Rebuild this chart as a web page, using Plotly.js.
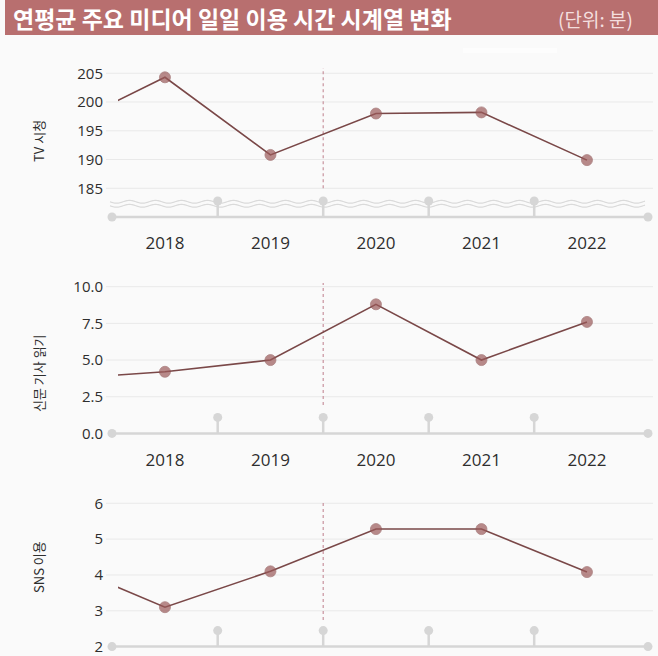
<!DOCTYPE html>
<html>
<head>
<meta charset="utf-8">
<script src="https://cdn.plot.ly/plotly-3.0.1.min.js"></script>
<style>
  html, body { margin: 0; padding: 0; background: #fafafa; }
  #chart { width: 658px; height: 656px; }
</style>
</head>
<body>
<div id="chart"></div>
<script>
// ---- data ----
const years = [2017, 2018, 2019, 2020, 2021, 2022];
const tvValues = [195.3, 204.3, 190.8, 198.0, 198.2, 189.9];
const newsValues = [3.7, 4.2, 5.0, 8.8, 5.0, 7.6];
const snsValues = [4.35, 3.1, 4.1, 5.28, 5.28, 4.08];
const yearLabels = ['2018', '2019', '2020', '2021', '2022'];
const panelTitles = ['TV 시청', '신문 기사 읽기', 'SNS 이용'];
const tvTicks = [185, 190, 195, 200, 205];
const newsTicks = [0, 2.5, 5, 7.5, 10];
const newsTickText = ['0.0', '2.5', '5.0', '7.5', '10.0'];
const snsTicks = [2, 3, 4, 5, 6];
const halfYears = [2018.5, 2019.5, 2020.5, 2021.5];
const chartTitle = '연평균 주요 미디어 일일 이용 시간 시계열 변화';
const unitLabel = '(단위: 분)';

// ---- layout helpers ----
const W = 658, H = 656;
const px = x => x / W;
const py = y => 1 - y / H;

const LINE = '#7a4848';
const DOT = '#9b5a5a';
const GRID = '#e9e9e9';
const BASE = '#d6d6d6';
const DASH = '#c8939e';
const TXT = '#2e2e2e';

const markerSizes = years.map(y => (y < 2018 ? 0 : 11));

function lineTrace(vals, xa, ya) {
  return {
    x: years, y: vals, xaxis: xa, yaxis: ya,
    type: 'scatter', mode: 'lines+markers',
    line: { color: LINE, width: 1.6 },
    marker: { size: markerSizes, color: DOT, line: { color: '#8a4f4f', width: 0.8 } },
    hoverinfo: 'skip', showlegend: false
  };
}

const data = [
  lineTrace(tvValues, 'x', 'y'),
  lineTrace(newsValues, 'x2', 'y2'),
  lineTrace(snsValues, 'x3', 'y3')
];

const shapes = [];
// title bar
shapes.push({ type: 'rect', xref: 'paper', yref: 'paper', x0: px(5), x1: 1, y0: py(35), y1: 1,
  fillcolor: '#b86f6f', line: { width: 0 }, layer: 'below' });
shapes.push({ type: 'rect', xref: 'paper', yref: 'paper', x0: px(463), x1: px(557), y0: py(53), y1: py(48),
  fillcolor: '#fdfdfd', line: { width: 0 }, layer: 'below' });

function panelDecor(xa, ya, gridVals, base, dashFrom, dashTo) {
  gridVals.forEach(v => shapes.push({ type: 'line', xref: 'paper', x0: px(106), x1: px(653),
    yref: ya, y0: v, y1: v, line: { color: GRID, width: 1 }, layer: 'below' }));
  shapes.push({ type: 'line', xref: 'paper', x0: px(112), x1: px(648), yref: ya, y0: base, y1: base,
    line: { color: BASE, width: 2.5 }, layer: 'below' });
  [112, 648].forEach(x => shapes.push({ type: 'circle', xref: 'paper', xsizemode: 'pixel', xanchor: px(x),
    x0: -4.5, x1: 4.5, yref: ya, ysizemode: 'pixel', yanchor: base, y0: -4.5, y1: 4.5,
    fillcolor: BASE, line: { width: 0 }, layer: 'below' }));
  halfYears.forEach(m => {
    shapes.push({ type: 'line', xref: xa, x0: m, x1: m, yref: ya, ysizemode: 'pixel', yanchor: base,
      y0: 0, y1: 16, line: { color: BASE, width: 2.5 }, layer: 'below' });
    shapes.push({ type: 'circle', xref: xa, xsizemode: 'pixel', xanchor: m, x0: -4.5, x1: 4.5,
      yref: ya, ysizemode: 'pixel', yanchor: base, y0: 11.5, y1: 20.5,
      fillcolor: BASE, line: { width: 0 }, layer: 'below' });
  });
  shapes.push({ type: 'line', xref: xa, x0: 2019.5, x1: 2019.5, yref: ya, y0: dashFrom, y1: dashTo,
    line: { color: DASH, width: 1.2, dash: '3px,3px' }, layer: 'below' });
}
panelDecor('x', 'y', tvTicks, 180, 185, 205.9);
panelDecor('x2', 'y2', newsTicks.slice(1), 0, 1.93, 10.25);
panelDecor('x3', 'y3', snsTicks.slice(1), 2, 2.74, 6.09);

// wavy axis-break lines in the first panel
function wave(yPix) {
  let d = '';
  for (let x = 110; x <= 645; x += 1) {
    const y = yPix + 1.4 * Math.sin((x - 110) / 26 * 2 * Math.PI);
    d += (x === 110 ? 'M' : 'L') + px(x).toFixed(5) + ',' + py(y).toFixed(5);
  }
  return d;
}
[201.8, 205.8].forEach(yp => shapes.push({ type: 'path', xref: 'paper', yref: 'paper', path: wave(yp),
  line: { color: '#dadada', width: 1.2 }, layer: 'below' }));

const annotations = [
  { text: '<b>' + chartTitle + '</b>', xref: 'paper', yref: 'paper', x: px(11), y: py(18),
    xanchor: 'left', yanchor: 'middle', showarrow: false,
    font: { family: 'Noto Sans CJK KR', size: 23, color: '#ffffff' } },
  { text: unitLabel, xref: 'paper', yref: 'paper', x: px(556), y: py(18),
    xanchor: 'left', yanchor: 'middle', showarrow: false,
    font: { family: 'Noto Sans CJK KR', size: 19, color: '#f4dfdf' } }
];
const titleY = [141, 373, 567];
panelTitles.forEach((t, i) => annotations.push({ text: t, xref: 'paper', yref: 'paper',
  x: px(38), y: py(titleY[i]), xanchor: 'center', yanchor: 'middle', textangle: -90,
  showarrow: false, font: { family: 'Noto Sans CJK KR', size: 13, color: TXT } }));

const xCommon = {
  domain: [px(118), px(653)], range: [2017.555, 2022.626],
  tickvals: years.slice(1), ticktext: yearLabels,
  showgrid: false, zeroline: false, showline: false, ticks: '',
  ticklabelstandoff: 8,
  tickfont: { family: 'Open Sans', size: 17, color: TXT }, fixedrange: true
};
const yCommon = {
  showgrid: false, zeroline: false, showline: false, ticks: '',
  ticklabelstandoff: 14,
  tickfont: { family: 'Open Sans', size: 15, color: TXT }, fixedrange: true
};

const layout = {
  width: W, height: H,
  margin: { l: 0, r: 0, t: 0, b: 0 },
  paper_bgcolor: '#fafafa', plot_bgcolor: 'rgba(0,0,0,0)',
  showlegend: false,
  xaxis: Object.assign({}, xCommon, { anchor: 'y' }),
  yaxis: Object.assign({}, yCommon, { anchor: 'x', domain: [py(222.8), py(58.9)], range: [179, 207.5],
    tickvals: tvTicks }),
  xaxis2: Object.assign({}, xCommon, { anchor: 'y2' }),
  yaxis2: Object.assign({}, yCommon, { anchor: 'x2', domain: [py(440), py(280.1)], range: [-0.45, 10.45],
    tickvals: newsTicks, ticktext: newsTickText }),
  xaxis3: Object.assign({}, xCommon, { anchor: 'y3', showticklabels: false }),
  yaxis3: Object.assign({}, yCommon, { anchor: 'x3', domain: [0, py(496.1)], range: [1.738, 6.2],
    tickvals: snsTicks }),
  shapes: shapes,
  annotations: annotations
};

Plotly.newPlot('chart', data, layout, { displayModeBar: false, staticPlot: true });
</script>
</body>
</html>
